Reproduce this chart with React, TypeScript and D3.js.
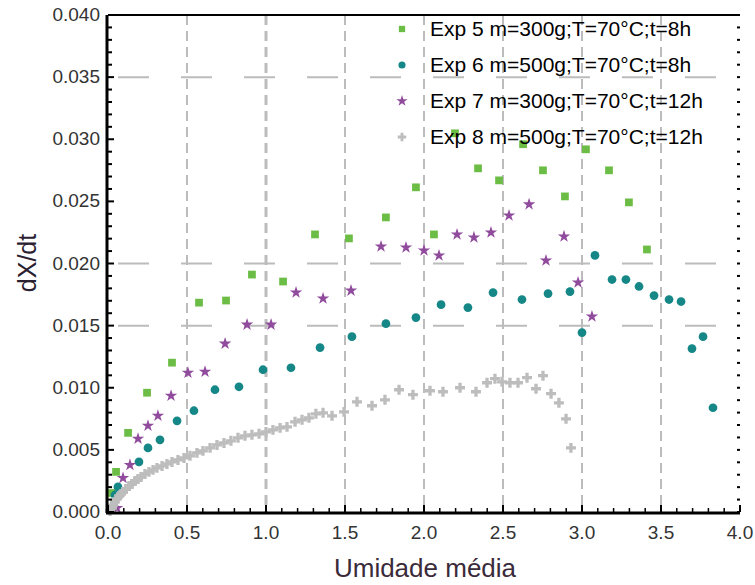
import React from "react";
import * as d3 from "d3";

const xTicks = [0, 0.5, 1, 1.5, 2, 2.5, 3, 3.5, 4];
const yTicks = [0, 0.005, 0.01, 0.015, 0.02, 0.025, 0.03, 0.035, 0.04];
const xGrid = [0.5, 1, 1.5, 2, 2.5, 3, 3.5];
const yGrid = [0.015, 0.02, 0.035];

const legendLabels = [
  "Exp 5 m=300g;T=70°C;t=8h",
  "Exp 6 m=500g;T=70°C;t=8h",
  "Exp 7 m=300g;T=70°C;t=12h",
  "Exp 8 m=500g;T=70°C;t=12h",
];

const exp5: [number, number][] = [
  [0.025, 0.00153], [0.051, 0.00323], [0.127, 0.00637], [0.247, 0.0096], [0.405, 0.01202],
  [0.576, 0.01685], [0.747, 0.01702], [0.911, 0.01911], [1.108, 0.01855], [1.31, 0.02234],
  [1.525, 0.02202], [1.759, 0.02371], [1.949, 0.02613], [2.063, 0.02234], [2.196, 0.03048],
  [2.342, 0.02766], [2.475, 0.02669], [2.627, 0.0296], [2.753, 0.0275], [2.892, 0.0254],
  [3.025, 0.02919], [3.171, 0.0275], [3.297, 0.02492], [3.411, 0.02113],
];

const exp6: [number, number][] = [
  [0.044, 0.00137], [0.063, 0.00202], [0.196, 0.00403], [0.253, 0.00516], [0.329, 0.00581],
  [0.437, 0.00734], [0.544, 0.00815], [0.677, 0.00984], [0.829, 0.01008], [0.981, 0.01145],
  [1.158, 0.01161], [1.342, 0.01323], [1.544, 0.01411], [1.759, 0.01516], [1.949, 0.01565],
  [2.108, 0.01669], [2.278, 0.01645], [2.437, 0.01766], [2.62, 0.0171], [2.785, 0.01758],
  [2.924, 0.01774], [3.0, 0.01444], [3.082, 0.02065], [3.19, 0.01871], [3.278, 0.01871],
  [3.361, 0.01815], [3.456, 0.01742], [3.551, 0.0171], [3.627, 0.01694], [3.696, 0.01315],
  [3.766, 0.01411], [3.829, 0.00839],
];

const exp7: [number, number][] = [
  [0.057, 0.00032], [0.095, 0.00274], [0.139, 0.00379], [0.19, 0.00589], [0.253, 0.00694],
  [0.316, 0.00774], [0.399, 0.00935], [0.506, 0.01121], [0.614, 0.01129], [0.741, 0.01355],
  [0.88, 0.01508], [1.032, 0.01508], [1.19, 0.01766], [1.361, 0.01718], [1.538, 0.01782],
  [1.728, 0.02137], [1.886, 0.02129], [2.0, 0.02105], [2.095, 0.02065], [2.209, 0.02234],
  [2.316, 0.0221], [2.424, 0.0225], [2.538, 0.02387], [2.665, 0.02476], [2.772, 0.02024],
  [2.886, 0.02218], [2.975, 0.01847], [3.063, 0.01573],
];

const exp8: [number, number][] = [
  [0.013, 0.00008], [0.025, 0.00032], [0.032, 0.00056], [0.044, 0.00081], [0.057, 0.00105],
  [0.07, 0.00129], [0.082, 0.00145], [0.095, 0.00161], [0.114, 0.00185], [0.133, 0.0021],
  [0.152, 0.00226], [0.171, 0.0025], [0.19, 0.00266], [0.209, 0.00282], [0.234, 0.00306],
  [0.259, 0.00323], [0.285, 0.00339], [0.31, 0.00355], [0.342, 0.00371], [0.373, 0.00387],
  [0.405, 0.00403], [0.443, 0.00419], [0.481, 0.00435], [0.519, 0.00452], [0.563, 0.00476],
  [0.601, 0.00492], [0.646, 0.00516], [0.69, 0.0054], [0.734, 0.00556], [0.778, 0.00573],
  [0.823, 0.00597], [0.867, 0.00613], [0.911, 0.00621], [0.956, 0.00629], [1.0, 0.00645],
  [1.044, 0.00661], [1.089, 0.00677], [1.133, 0.00685], [1.184, 0.00726], [1.228, 0.00742],
  [1.272, 0.00758], [1.316, 0.0079], [1.361, 0.00798], [1.418, 0.00774], [1.494, 0.00806],
  [1.576, 0.00887], [1.671, 0.00855], [1.753, 0.00903], [1.842, 0.00984], [1.93, 0.00944],
  [2.038, 0.00976], [2.12, 0.00968], [2.228, 0.01], [2.329, 0.00968], [2.399, 0.0104],
  [2.449, 0.01073], [2.494, 0.01048], [2.544, 0.0104], [2.595, 0.0104], [2.652, 0.01081],
  [2.709, 0.00992], [2.753, 0.01097], [2.804, 0.00952], [2.854, 0.00879], [2.899, 0.0075],
  [2.93, 0.00516],
];

const colors = ["#6cbd45", "#168787", "#904b9d", "#bdbdbd"];
const symbols = [d3.symbolSquare, d3.symbolCircle, d3.symbolStar, d3.symbolCross];
const symSizes = [60, 60, 48, 55];

const W = 755;
const H = 585;
const font = "'Liberation Sans', Arial, sans-serif";

export default function App() {
  const x = d3.scaleLinear().domain([0, 4]).range([108, 740]);
  const y = d3.scaleLinear().domain([0, 0.04]).range([512, 15]);
  const series = [exp5, exp6, exp7, exp8];
  const minorX = d3.range(0, 4.0001, 0.1);
  const minorY = d3.range(0, 0.04001, 0.001);

  return (
    <svg width={W} height={H} style={{ position: "absolute", left: 0, top: 0, background: "#fff" }}>
      {/* grid */}
      {xGrid.map((v) => (
        <line key={"gx" + v} x1={x(v)} x2={x(v)} y1={y(0.04)} y2={y(0)}
          stroke="#bcbcbc" strokeWidth={v === 1 ? 3 : 2} strokeDasharray="10,6" />
      ))}
      {yGrid.map((v) => (
        <line key={"gy" + v} x1={x(0) + 10} x2={x(4)} y1={y(v)} y2={y(v)}
          stroke="#bcbcbc" strokeWidth={2} strokeDasharray="31,32" />
      ))}
      {/* points */}
      {series.map((s, i) => (
        <g key={"s" + i} fill={colors[i]}>
          {s.map((p, j) => (
            <path key={j} transform={`translate(${x(p[0])},${y(p[1])})`}
              d={d3.symbol().type(symbols[i]).size(symSizes[i])() || ""} />
          ))}
        </g>
      ))}
      {/* axes */}
      <line x1={x(0)} x2={x(4)} y1={y(0.04)} y2={y(0.04)} stroke="#000" strokeWidth={2} />
      <line x1={x(0) - 1} x2={x(0) - 1} y1={y(0.04)} y2={y(0) + 1} stroke="#000" strokeWidth={3} />
      <line x1={x(0) - 2} x2={x(4)} y1={y(0) + 1} y2={y(0) + 1} stroke="#000" strokeWidth={3} />
      {minorX.map((v, i) => (
        <line key={"mx" + i} x1={x(v)} x2={x(v)} y1={y(0)} y2={y(0) - (i % 5 === 0 ? 7 : 4)}
          stroke="#000" strokeWidth={i % 5 === 0 ? 2 : 1.5} />
      ))}
      {minorY.map((v, i) => (
        <g key={"my" + i}>
          <line x1={x(0)} x2={x(0) + (i % 5 === 0 ? 6 : 4)} y1={y(v)} y2={y(v)} stroke="#000" strokeWidth={2} />
          <line x1={x(4) - 3} x2={x(4)} y1={y(v)} y2={y(v)} stroke="#000" strokeWidth={2} />
        </g>
      ))}
      {/* tick labels */}
      {xTicks.map((v) => (
        <text key={"xt" + v} x={x(v)} y={539} textAnchor="middle" fontFamily={font} fontSize={19} fill="#333">
          {d3.format(".1f")(v)}
        </text>
      ))}
      {yTicks.map((v) => (
        <text key={"yt" + v} x={100} y={y(v) + 6} textAnchor="end" fontFamily={font} fontSize={19} fill="#333">
          {d3.format(".3f")(v)}
        </text>
      ))}
      {/* axis titles */}
      <text x={425} y={577} textAnchor="middle" fontFamily={font} fontSize={26} fill="#3a2a3a">
        Umidade média
      </text>
      <text transform="translate(36,263) rotate(-90)" textAnchor="middle" fontFamily={font} fontSize={25} fill="#2a2030">
        dX/dt
      </text>
      {/* legend */}
      {legendLabels.map((l, i) => (
        <g key={"lg" + i} transform={`translate(0,${36 + i * 36})`}>
          <path transform="translate(402,-7)" fill={colors[i]}
            d={d3.symbol().type(symbols[i]).size(40)() || ""} />
          <text x={430} y={0} fontFamily={font} fontSize={21} fill="#000">{l}</text>
        </g>
      ))}
    </svg>
  );
}
